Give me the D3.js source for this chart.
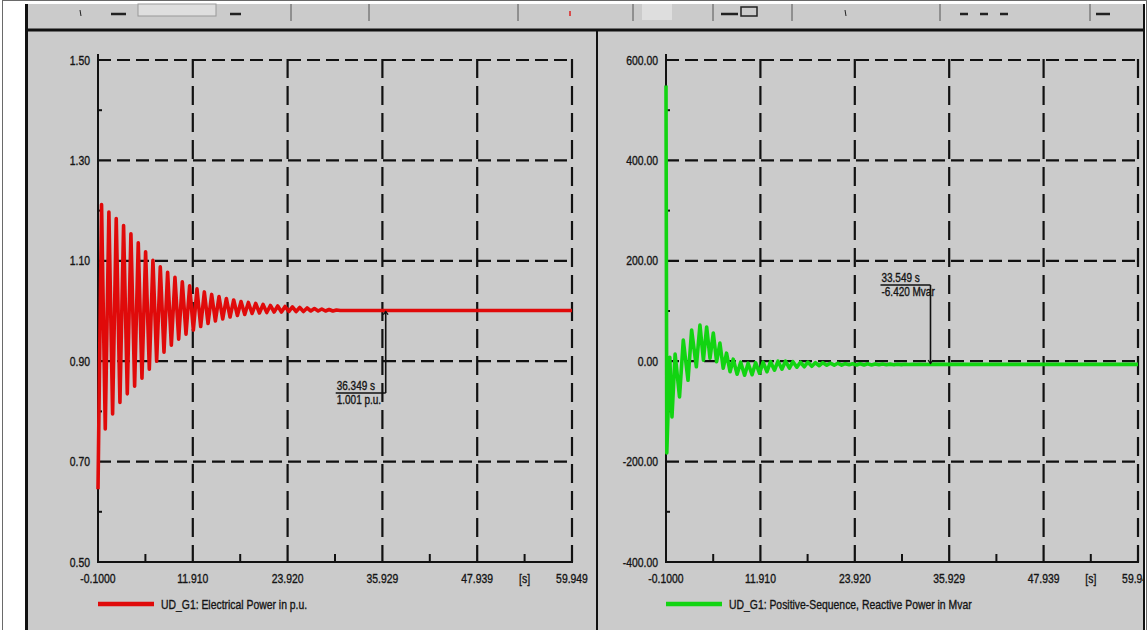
<!DOCTYPE html>
<html>
<head>
<meta charset="utf-8">
<script src="https://cdn.jsdelivr.net/npm/d3@7"></script>
<style>
  body { margin: 0; background: #fff; }
  svg { display: block; }
  text { font-family: "Liberation Sans", Arial, sans-serif; fill: #141414; stroke: #141414; stroke-width: 0.35px; }
</style>
</head>
<body>
<div id="chart"></div>
<script>
// Axis ticks (shared time axis for both plots)
const timeTicks = [-0.1, 11.910, 23.920, 35.929, 47.939, 59.949];
const timeTickLabels = ["-0.1000", "11.910", "23.920", "35.929", "47.939", "59.949"];
const timeUnit = "[s]";

const powerTicks = [0.5, 0.7, 0.9, 1.1, 1.3, 1.5];
const powerTickLabels = ["0.50", "0.70", "0.90", "1.10", "1.30", "1.50"];
const qTicks = [-400, -200, 0, 200, 400, 600];
const qTickLabels = ["-400.00", "-200.00", "0.00", "200.00", "400.00", "600.00"];

const powerTime = [-0.10, 0.35, 0.82, 1.28, 1.75, 2.21, 2.68, 3.14, 3.61, 4.07, 4.54, 5.00, 5.47, 5.93,
  6.40, 6.86, 7.33, 7.79, 8.26, 8.72, 9.19, 9.65, 10.12, 10.58, 11.05, 11.51, 11.98, 12.44, 12.91,
  13.37, 13.84, 14.30, 14.77, 15.23, 15.70, 16.16, 16.63, 17.09, 17.56, 18.02, 18.49, 18.95, 19.42,
  19.88, 20.35, 20.81, 21.28, 21.74, 22.21, 22.67, 23.14, 23.60, 24.07, 24.53, 25.00, 25.46, 25.93,
  26.39, 26.86, 27.32, 27.79, 28.25, 28.72, 29.18, 29.65, 30.11, 30.58, 31.50, 36.349, 59.949];
const powerValue = [0.645, 1.212, 0.765, 1.197, 0.795, 1.184, 0.818, 1.170, 0.835, 1.154, 0.850, 1.136,
  0.866, 1.118, 0.884, 1.101, 0.900, 1.088, 0.918, 1.077, 0.932, 1.067, 0.944, 1.058, 0.954, 1.050,
  0.962, 1.044, 0.969, 1.038, 0.975, 1.033, 0.980, 1.029, 0.984, 1.025, 0.988, 1.022, 0.991, 1.019,
  0.993, 1.017, 0.995, 1.015, 0.996, 1.013, 0.997, 1.011, 0.998, 1.010, 0.998, 1.009, 0.999, 1.008,
  0.999, 1.007, 0.999, 1.006, 1.000, 1.005, 1.000, 1.004, 1.000, 1.003, 1.000, 1.002, 1.001, 1.001,
  1.001, 1.001];

// UD_G1 positive-sequence reactive power (Mvar)
const qTime = [-0.10, 0.00, 0.38, 0.66, 1.06, 1.62, 2.10, 2.70, 3.16, 3.76, 4.22, 4.66, 5.07, 5.50,
  5.92, 6.34, 6.76, 7.18, 7.60, 8.05, 8.45, 8.95, 9.40, 9.90, 10.35, 10.85, 11.30, 11.80, 12.25,
  12.75, 13.20, 13.70, 14.15, 14.65, 15.10, 15.60, 16.05, 16.55, 17.00, 17.50, 17.95, 18.45, 18.90,
  19.40, 19.85, 20.35, 20.80, 21.30, 21.75, 22.25, 22.70, 23.20, 23.65, 24.15, 24.60, 25.10, 25.55,
  26.05, 26.50, 27.00, 27.45, 27.95, 28.40, 28.90, 29.35, 29.85, 30.30, 30.80, 31.25, 31.75, 32.20,
  32.70, 33.549, 59.949];
const qValue = [549, -183, 8, -111, 14, -71, 42, -38, 62, -11, 72, 2, 68, 6, 56, -1, 36, -14, 16, -21,
  4, -26, -2, -28, -4, -27, -3, -24, -2, -21, -1, -18, 0, -16, 0, -14, -1, -12, -2, -11, -2, -10,
  -3, -9, -3, -8, -4, -8, -4, -8, -5, -7, -5, -7.5, -5, -7.5, -5.2, -7.4, -5.4, -7.2, -5.6, -7.0,
  -5.8, -6.9, -6.0, -6.8, -6.1, -6.7, -6.2, -6.6, -6.3, -6.5, -6.42, -6.42];

// cursor readouts shown in the plots
const powerCursor = [36.349, 1.001];
const powerCursorLabels = ["36.349 s", "1.001 p.u."];
const qCursor = [33.549, -6.420];
const qCursorLabels = ["33.549 s", "-6.420 Mvar"];

const W = 1147, H = 630;
const TOP = 60, BOTTOM = 562;
const SX = 0.8; // screenshot is squeezed sideways

const svg = d3.select('#chart').append('svg')
  .attr('width', W).attr('height', H);

const defs = svg.append('defs');
defs.append('clipPath').attr('id', 'clip-left')
  .append('rect').attr('x', 28).attr('y', 31).attr('width', 568).attr('height', H);
defs.append('clipPath').attr('id', 'clip-right')
  .append('rect').attr('x', 598).attr('y', 31).attr('width', 545).attr('height', H);
defs.append('marker')
  .attr('id', 'arrow')
  .attr('viewBox', '-5 -5 10 10')
  .attr('refX', 0).attr('refY', 0)
  .attr('markerWidth', 8).attr('markerHeight', 8)
  .attr('markerUnits', 'userSpaceOnUse')
  .attr('orient', 'auto')
  .append('path')
  .attr('d', 'M-4,-3 L0,0 L-4,3')
  .attr('fill', 'none').attr('stroke', '#111').attr('stroke-width', 1.6);

// squeezed text helper
function label(g, x, y, str, anchor, size) {
  return g.append('text')
    .attr('transform', `translate(${x},${y}) scale(${SX},1)`)
    .attr('text-anchor', anchor || 'start')
    .style('font-size', (size || 13) + 'px')
    .text(str);
}

// window frame + toolbar strip
svg.append('rect').attr('x', 2.5).attr('y', 0.5).attr('width', W - 3).attr('height', H)
  .attr('fill', '#fff').attr('stroke', '#6a6a6a');
svg.append('rect').attr('x', 27).attr('y', 4).attr('width', 1117).attr('height', H)
  .attr('fill', '#cbcbcb');

const bar = svg.append('g').attr('stroke', '#555').attr('stroke-width', 1);
[291, 369, 518, 633, 713, 792, 940, 1090].forEach(x => {
  bar.append('line').attr('x1', x).attr('x2', x).attr('y1', 4).attr('y2', 21);
});
bar.append('rect').attr('x', 138).attr('y', 4).attr('width', 78).attr('height', 12)
  .attr('fill', '#dedede').attr('stroke', '#999');
bar.append('rect').attr('x', 642).attr('y', 4).attr('width', 30).attr('height', 16)
  .attr('fill', '#dedede').attr('stroke', 'none');
[[111, 126], [230, 241], [721, 738], [960, 968], [980, 988], [1000, 1008], [1096, 1110]].forEach(d => {
  bar.append('line').attr('x1', d[0]).attr('x2', d[1]).attr('y1', 14).attr('y2', 14)
    .attr('stroke', '#222').attr('stroke-width', 2.5);
});
bar.append('rect').attr('x', 741).attr('y', 7).attr('width', 16).attr('height', 9)
  .attr('fill', 'none').attr('stroke', '#222').attr('stroke-width', 1.5);
bar.append('line').attr('x1', 80).attr('x2', 81).attr('y1', 10).attr('y2', 16).attr('stroke', '#222');
bar.append('line').attr('x1', 845).attr('x2', 846).attr('y1', 10).attr('y2', 16).attr('stroke', '#222');
bar.append('line').attr('x1', 570).attr('x2', 570).attr('y1', 11).attr('y2', 16)
  .attr('stroke', '#d22').attr('stroke-width', 1.5);

const frame = svg.append('g').attr('stroke', '#111');
frame.append('line').attr('x1', 26).attr('x2', 1145).attr('y1', 30).attr('y2', 30).attr('stroke-width', 3);
frame.append('line').attr('x1', 26.5).attr('x2', 26.5).attr('y1', 4).attr('y2', H).attr('stroke-width', 3);
frame.append('line').attr('x1', 1144).attr('x2', 1144).attr('y1', 4).attr('y2', H).attr('stroke-width', 2);
frame.append('line').attr('x1', 597).attr('x2', 597).attr('y1', 30).attr('y2', H).attr('stroke-width', 2);

function drawPanel(o) {
  const g = svg.append('g').attr('clip-path', `url(#${o.clip})`);
  const x = d3.scaleLinear().domain([timeTicks[0], timeTicks[timeTicks.length - 1]]).range([o.x0, o.x1]);
  const y = d3.scaleLinear().domain(d3.extent(o.yTicks)).range([BOTTOM, TOP]);
  const mid = d3.pairs(timeTicks).map(p => (p[0] + p[1]) / 2);
  const yMid = d3.pairs(o.yTicks).map(p => (p[0] + p[1]) / 2);

  // dashed grid
  const grid = g.append('g').attr('stroke', '#111').attr('stroke-width', 2.2);
  grid.selectAll('.h').data(o.yTicks.slice(1)).join('line')
    .attr('x1', o.x0).attr('x2', o.x1 + 1).attr('y1', d => y(d)).attr('y2', d => y(d))
    .attr('stroke-dasharray', '13,6');
  grid.selectAll('.v').data(timeTicks.slice(1)).join('line')
    .attr('x1', d => x(d)).attr('x2', d => x(d)).attr('y1', TOP - 1).attr('y2', BOTTOM)
    .attr('stroke-dasharray', '19,8');

  // axes with minor ticks
  const ax = g.append('g').attr('stroke', '#111').attr('stroke-width', 2);
  ax.append('line').attr('x1', o.x0).attr('x2', o.x0).attr('y1', TOP - 6).attr('y2', BOTTOM + 1);
  ax.append('line').attr('x1', o.x0 - 1).attr('x2', o.x1 + 1).attr('y1', BOTTOM).attr('y2', BOTTOM);
  ax.selectAll('.mx').data(mid).join('line')
    .attr('x1', d => x(d)).attr('x2', d => x(d)).attr('y1', BOTTOM).attr('y2', BOTTOM - 8);
  ax.selectAll('.my').data(yMid).join('line')
    .attr('x1', o.x0).attr('x2', o.x0 + 4).attr('y1', d => y(d)).attr('y2', d => y(d));

  // tick labels
  o.yTicks.forEach((v, i) => label(g, o.x0 - 8, y(v) + 4.5, o.yLabels[i], 'end'));
  timeTicks.forEach((v, i) => label(g, x(v), BOTTOM + 21, timeTickLabels[i], 'middle'));
  label(g, x(mid[mid.length - 1]), BOTTOM + 21, timeUnit, 'middle');

  // curve
  const line = d3.line().x(d => x(d[0])).y(d => y(d[1]));
  g.append('path')
    .datum(d3.zip(o.time, o.value))
    .attr('d', line)
    .attr('fill', 'none')
    .attr('stroke', o.color)
    .attr('stroke-width', 3.6)
    .attr('stroke-linejoin', 'round');

  // cursor readout
  const cx = x(o.cursor[0]), cy = y(o.cursor[1]);
  const by = o.boxY;
  const c = g.append('g');
  c.append('line').attr('x1', cx - 50).attr('x2', cx).attr('y1', by).attr('y2', by)
    .attr('stroke', '#111').attr('stroke-width', 1.6);
  c.append('line').attr('x1', cx).attr('x2', cx).attr('y1', by).attr('y2', cy + (cy < by ? 1 : -1))
    .attr('stroke', '#111').attr('stroke-width', 1.6)
    .attr('marker-end', 'url(#arrow)');
  label(c, cx - 49, by - 3, o.cursorLabels[0], 'start', 12.5);
  label(c, cx - 49, by + 11, o.cursorLabels[1], 'start', 12.5);

  // legend
  g.append('line').attr('x1', o.x0).attr('x2', o.x0 + 56).attr('y1', 604).attr('y2', 604)
    .attr('stroke', o.color).attr('stroke-width', 4.5);
  label(g, o.x0 + 63, 608.5, o.legend);
}

drawPanel({
  clip: 'clip-left', x0: 98, x1: 572,
  yTicks: powerTicks, yLabels: powerTickLabels,
  time: powerTime, value: powerValue, color: '#e00a0a',
  cursor: powerCursor, cursorLabels: powerCursorLabels, boxY: 393,
  legend: 'UD_G1: Electrical Power in p.u.'
});

drawPanel({
  clip: 'clip-right', x0: 666, x1: 1138,
  yTicks: qTicks, yLabels: qTickLabels,
  time: qTime, value: qValue, color: '#12d412',
  cursor: qCursor, cursorLabels: qCursorLabels, boxY: 285,
  legend: 'UD_G1: Positive-Sequence, Reactive Power in Mvar'
});
</script>
</body>
</html>
